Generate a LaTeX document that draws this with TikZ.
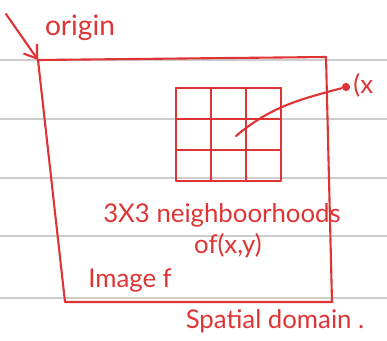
\documentclass[tikz,border=0pt]{standalone}
\usepackage{fontspec}
\setmainfont{Lato}
\usetikzlibrary{positioning, arrows.meta, calc}
\definecolor{pen}{RGB}{222,52,52}
\definecolor{rule}{RGB}{205,205,205}

\begin{document}
\begin{tikzpicture}[
    x=0.015cm, y=-0.015cm,
    ink/.style={draw=pen, line width=0.9pt, line join=round, line cap=round},
    hand/.style={text=pen, font=\fontsize{11}{12}\selectfont, inner sep=0pt},
    >={Straight Barb[length=5pt, width=7pt]}
  ]
  \useasboundingbox (0,0) rectangle (387,340);

  % Paper rules
  \foreach \ry in {60,119,178,236,298}
    \draw[rule, line width=0.6pt] (0,\ry) -- (387,\ry);

  % Image frame
  \coordinate (tl) at (38,60);
  \coordinate (tr) at (326,57);
  \coordinate (br) at (332,302);
  \coordinate (bl) at (65,302);
  \draw[ink] (tl) -- (tr) -- (br) -- (bl) -- cycle;

  % Origin
  \coordinate (otail) at (6,14);
  \node[hand, font=\fontsize{12}{13}\selectfont] (origin) at (80,28) {origin};
  \draw[ink, ->] (otail) -- (tl);

  % 3x3 neighbourhood
  \foreach \gx in {0,1,2,3}
    \draw[ink] (176+35*\gx,88) -- (176+35*\gx,180);
  \foreach \gy in {0,1,2,3}
    \draw[ink] (176,88+31*\gy) -- (281,88+31*\gy);
  \coordinate (centre) at (236,136);

  % Point label
  \node[circle, fill=pen, inner sep=0pt, minimum size=3.5pt] (pt) at (346,87) {};
  \node[hand, anchor=west] (xy) at (353,85) {(x};
  \draw[ink] (centre) to[out=40, in=195] (pt);

  % Texts
  \node[hand] (nbh) at (222,215) {3X3 neighboorhoods};
  \node[hand] (ofxy) at (228,246) {of(x,y)};
  \node[hand] (img) at (130,280) {Image f};
  \node[hand] (dom) at (275,321) {Spatial domain .};
\end{tikzpicture}
\end{document}
